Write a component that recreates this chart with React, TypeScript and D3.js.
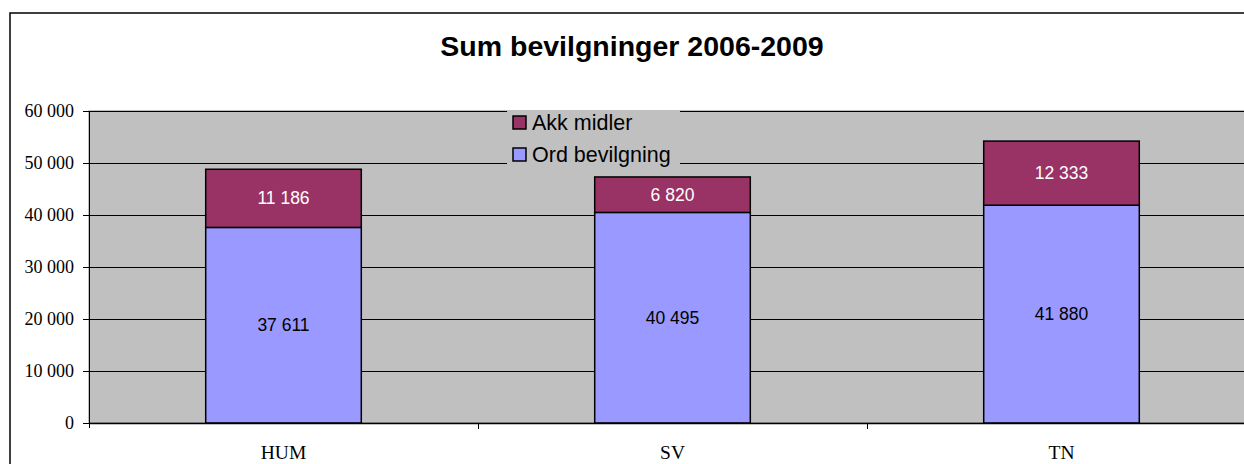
import * as d3 from 'd3';

const categories = ['HUM', 'SV', 'TN'];
const ordBevilgning = [37611, 40495, 41880];
const akkMidler = [11186, 6820, 12333];
const yTicks = [0, 10000, 20000, 30000, 40000, 50000, 60000];
const seriesNames = ['Akk midler', 'Ord bevilgning'];

const fmt = (v: number) => d3.format(',')(v).replace(/,/g, ' ');

export default function App() {
  const width = 1244;
  const height = 464;
  const plot = { left: 89, top: 111, right: 1256, bottom: 423 };

  const x = d3.scaleBand().domain(categories).range([plot.left, plot.right]).paddingInner(0).paddingOuter(0);
  const y = d3.scaleLinear().domain([0, 60000]).range([plot.bottom, plot.top]);
  const barW = x.bandwidth() / 2.5;

  const stacked = categories.map((c, i) => ({
    name: c,
    ord: ordBevilgning[i],
    akk: akkMidler[i],
  }));

  const colors = { ord: '#9999FF', akk: '#993366' };
  const serif = '"Liberation Serif", "Times New Roman", serif';
  const sans = '"Liberation Sans", Arial, sans-serif';

  return (
    <svg width={width} height={height} style={{ position: 'absolute', left: 0, top: 0, background: '#fff' }}>
      {/* chart frame */}
      <rect x={10} y={13} width={1260} height={470} fill="#fff" stroke="#000" strokeWidth={1.5} />
      <text x={632} y={56} textAnchor="middle" fontFamily={sans} fontWeight="bold" fontSize={28.5}>
        Sum bevilgninger 2006-2009
      </text>

      {/* plot area */}
      <rect x={plot.left} y={plot.top} width={plot.right - plot.left} height={plot.bottom - plot.top} fill="#C0C0C0" stroke="#808080" strokeWidth={1} />
      {yTicks.map(t => (
        <g key={t}>
          {t > 0 && <line x1={plot.left} x2={plot.right} y1={y(t) + 0.5} y2={y(t) + 0.5} stroke="#000" strokeWidth={1} />}
          <line x1={plot.left - 6} x2={plot.left} y1={y(t) + 0.5} y2={y(t) + 0.5} stroke="#000" strokeWidth={1} />
          <text x={74} y={y(t) + 6} textAnchor="end" fontFamily={serif} fontSize={18}>
            {fmt(t)}
          </text>
        </g>
      ))}

      {/* bars */}
      {stacked.map(d => {
        const cx = (x(d.name) || 0) + x.bandwidth() / 2;
        const x0 = cx - barW / 2;
        const yOrd = y(d.ord);
        const yTop = y(d.ord + d.akk);
        return (
          <g key={d.name}>
            <rect x={x0} y={yOrd} width={barW} height={y(0) - yOrd} fill={colors.ord} stroke="#000" strokeWidth={1.5} />
            <rect x={x0} y={yTop} width={barW} height={yOrd - yTop} fill={colors.akk} stroke="#000" strokeWidth={1.5} />
            <text x={cx} y={(yOrd + y(0)) / 2 + 6} textAnchor="middle" fontFamily={sans} fontSize={17.5} fill="#000">
              {fmt(d.ord)}
            </text>
            <text x={cx} y={(yTop + yOrd) / 2 + 6} textAnchor="middle" fontFamily={sans} fontSize={17.5} fill="#fff">
              {fmt(d.akk)}
            </text>
          </g>
        );
      })}

      {/* axes */}
      <line x1={plot.left + 0.5} x2={plot.left + 0.5} y1={plot.top} y2={plot.bottom + 5} stroke="#000" strokeWidth={1} />
      <line x1={plot.left} x2={plot.right} y1={plot.bottom + 0.5} y2={plot.bottom + 0.5} stroke="#000" strokeWidth={1.5} />
      {categories.map((c, i) => (
        <g key={c}>
          {i > 0 && (
            <line x1={(x(c) || 0) + 0.5} x2={(x(c) || 0) + 0.5} y1={plot.bottom} y2={plot.bottom + 6} stroke="#000" strokeWidth={1} />
          )}
          <text x={(x(c) || 0) + x.bandwidth() / 2} y={459} textAnchor="middle" fontFamily={serif} fontSize={19.5}>
            {c}
          </text>
        </g>
      ))}

      {/* legend */}
      <rect x={507} y={110} width={173} height={58} fill="#C0C0C0" />
      {seriesNames.map((s, i) => (
        <g key={s}>
          <rect x={513} y={116 + i * 32} width={13} height={13} fill={i === 0 ? colors.akk : colors.ord} stroke="#000" strokeWidth={1.5} />
          <text x={532} y={130 + i * 32} fontFamily={sans} fontSize={21.5} fill="#000">
            {s}
          </text>
        </g>
      ))}
    </svg>
  );
}
